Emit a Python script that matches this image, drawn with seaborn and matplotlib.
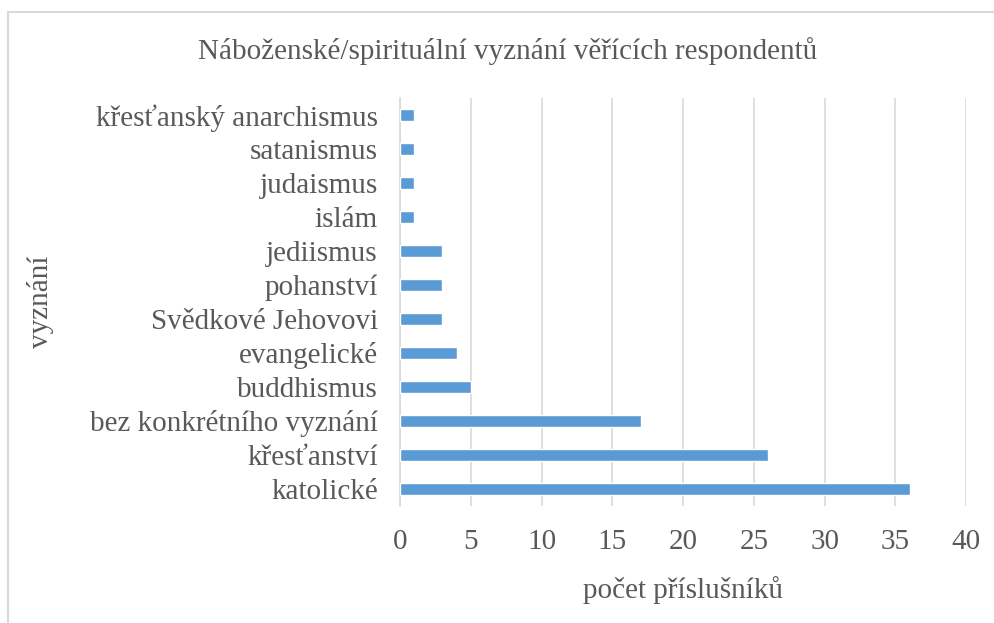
import pandas as pd
import matplotlib
matplotlib.use("Agg")
import matplotlib.pyplot as plt
import seaborn as sns
from matplotlib.patches import Rectangle

# data, top to bottom
categories = [
    "křesťanský anarchismus", "satanismus", "judaismus", "islám",
    "jediismus", "pohanství", "Svědkové Jehovovi", "evangelické",
    "buddhismus", "bez konkrétního vyznání", "křesťanství", "katolické",
]
counts = [1, 1, 1, 1, 3, 3, 3, 4, 5, 17, 26, 36]
x_ticks = [0, 5, 10, 15, 20, 25, 30, 35, 40]

df = pd.DataFrame({"vyznani": categories, "pocet": counts})

sns.set_theme(style="white")
plt.rcParams["font.family"] = ["Liberation Serif", "DejaVu Serif"]

text_col = "#595959"
bar_col = "#5b9bd5"

fig = plt.figure(figsize=(9.95, 6.23), dpi=100)
ax = fig.add_axes([0.402, 0.188, 0.569, 0.655])

sns.barplot(data=df, x="pocet", y="vyznani", order=categories,
            color=bar_col, saturation=1, width=0.35, ax=ax, zorder=3)

ax.set_xlim(0, 40)
ax.set_xticks(x_ticks)
ax.xaxis.grid(True, color="#d9d9d9", linewidth=1.2, zorder=0)
ax.yaxis.grid(False)
for s in ["top", "right", "bottom"]:
    ax.spines[s].set_visible(False)
ax.spines["left"].set_color("#d9d9d9")
ax.spines["left"].set_linewidth(1.2)

ax.tick_params(axis="x", labelsize=21, colors=text_col, length=0, pad=17)
ax.tick_params(axis="y", labelsize=21, colors=text_col, length=0, pad=16)

ax.set_xlabel("počet příslušníků", fontsize=21, color=text_col)
ax.xaxis.set_label_coords(0.5, -0.172)
ax.set_ylabel("vyznání", fontsize=21, color=text_col)
ax.yaxis.set_label_coords(-0.612, 0.5)

fig.text(0.51, 0.918, "Náboženské/spirituální vyznání věřících respondentů",
         ha="center", va="center", fontsize=21, color=text_col)

# light frame around the chart area
fig.patches.append(Rectangle((0.008, -0.02), 1.1, 1.0, transform=fig.transFigure,
                             fill=False, edgecolor="#d9d9d9", linewidth=1.5))

fig.savefig("out.png", dpi=100)
